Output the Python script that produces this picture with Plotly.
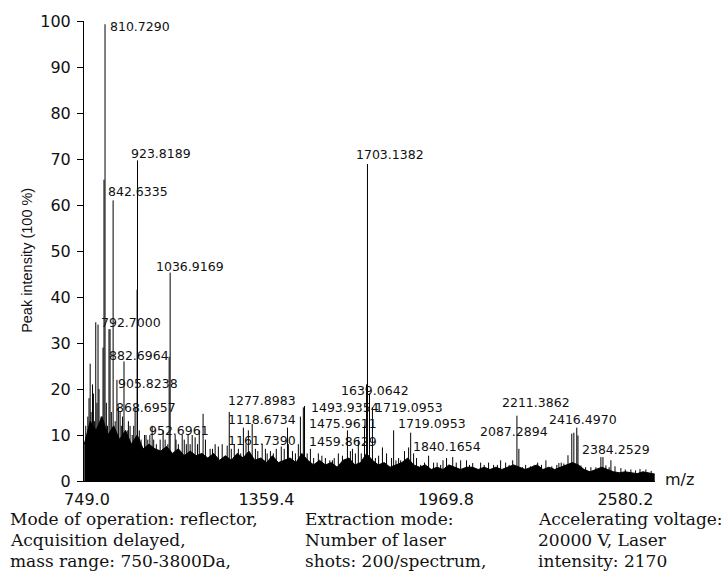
import plotly.graph_objects as go

# ---- data ----
# labelled / major peak sticks (m/z, relative intensity %)
peak_mz = [752, 760, 768, 779, 786.7, 803.7, 807, 810.5, 824, 827.6, 838, 851, 861.7,
           875, 895.7, 912.8, 919.6, 921, 950, 970.7, 998, 1008, 1028.6, 1032, 1049,
           1052, 1073, 1087, 1093, 1107, 1117, 1131, 1144, 1168, 1185, 1196, 1209, 1226,
           1233, 1250, 1264, 1281, 1298, 1311, 1322, 1345, 1356, 1373, 1393, 1410, 1431,
           1434, 1448, 1468, 1475, 1485, 1489, 1509, 1536, 1560, 1584, 1604, 1635, 1652,
           1662, 1672, 1693, 1700, 1703.1, 1710, 1720, 1741, 1754, 1768, 1792, 1809, 1816,
           1829, 1843, 1850, 1860, 1884, 1897, 1911, 1928, 1952, 1972, 1993, 2020, 2040,
           2061, 2088, 2115, 2132, 2156, 2173, 2197, 2211.4, 2218, 2241, 2258, 2282, 2310,
           2330, 2347, 2354, 2371, 2385, 2398, 2405, 2415, 2419, 2429, 2463, 2497, 2504,
           2514, 2531, 2565, 2599, 2650]
peak_int = [14, 25.5, 21, 34.5, 34, 29, 65.5, 99.3, 33, 33, 61, 22, 15,
            26, 12, 16, 41.6, 69.7, 10, 12, 9, 11, 27, 45.3, 10,
            9, 10, 8, 10, 10, 9.5, 11, 14.6, 7, 8, 7.5, 8, 7.7,
            15, 8, 7, 11.6, 11, 12.4, 7, 8, 7, 6.5, 7, 7.5, 11.6,
            8, 6.5, 8, 14, 16, 16.3, 7, 6, 5, 4.5, 6, 11, 7,
            6, 9, 12, 21, 68.9, 19, 16, 5.5, 7.3, 6, 11, 5, 4.5,
            6.5, 7.3, 10.5, 6, 3.5, 4, 5.5, 4, 3.5, 5, 5.2, 4.5, 4.5,
            3.9, 4, 4, 3.5, 4.5, 4, 4.5, 14.2, 7, 3.5, 3.2, 4, 4.5,
            3.2, 3.5, 3.9, 3.8, 5.6, 10.3, 10.5, 11.6, 9.9, 3.4, 3, 5.2, 5.2,
            3.4, 4.5, 2.8, 2.5, 2.5]

# small noise spikes above the baseline band
minor_mz = [745, 756, 763, 771, 775, 783, 790, 797, 815, 819, 832, 845, 856, 866, 870,
            886, 890, 903, 908, 927, 933, 945, 956, 963, 976, 985, 1015, 1024, 1060,
            1080, 1100, 1125, 1152, 1176, 1240, 1272, 1290, 1330, 1362, 1383, 1420,
            1458, 1498, 1520, 1548, 1575, 1590, 1618, 1645, 1682, 1730, 1785, 1800,
            1870, 1940, 1960, 2005, 2050, 2100, 2145, 2185, 2230, 2270, 2295, 2362,
            2445, 2480, 2525, 2545, 2580, 2615, 2630, 2668]
minor_int = [12, 18, 15, 19, 13, 17, 20, 14, 17, 12, 15, 13, 16, 12, 14,
             11, 13, 10, 12, 11, 9, 10, 9, 10, 9, 8, 9, 8, 8,
             9, 8, 8, 9, 7, 7, 6, 8, 6.5, 6, 6, 7,
             6, 6, 5, 5.5, 4.5, 5, 5.5, 6.5, 6, 5, 5, 4.5,
             5, 4, 4.5, 4, 3.5, 3.5, 3.5, 3.5, 3, 3.5, 3.5, 4,
             3, 3, 3, 3.2, 2.5, 2.3, 2.6, 2.2]

# dense baseline-noise envelope
noise_mz = [740, 760, 780, 800, 820, 840, 860, 880, 900, 920, 940, 960, 980, 1000,
            1020, 1040, 1060, 1080, 1100, 1120, 1140, 1160, 1180, 1200, 1220, 1240,
            1260, 1280, 1300, 1320, 1340, 1360, 1380, 1400, 1420, 1440, 1460, 1480,
            1500, 1520, 1540, 1560, 1580, 1600, 1620, 1640, 1660, 1680, 1700, 1720,
            1740, 1760, 1780, 1800, 1820, 1840, 1860, 1880, 1900, 1920, 1940, 1960,
            1980, 2000, 2020, 2040, 2060, 2080, 2100, 2120, 2140, 2160, 2180, 2200,
            2220, 2240, 2260, 2280, 2300, 2320, 2340, 2360, 2380, 2400, 2420, 2440,
            2460, 2480, 2500, 2520, 2540, 2560, 2580, 2600, 2620, 2640, 2660, 2680]
noise_top = [8, 13, 11, 14, 10, 12, 9, 11, 8, 10, 7, 8, 7, 6.5,
             7.5, 6, 7, 5.5, 6.5, 5.5, 6, 5, 6, 4.5, 5.5, 4.5,
             6, 5, 6.5, 4.5, 5, 4, 5.5, 4, 4.5, 5, 4, 6,
             4.5, 3.5, 4.5, 3.5, 4, 3, 4.5, 5, 3.5, 4, 6, 4.5,
             3.5, 4, 3, 3.5, 4, 5, 3.5, 3, 3.5, 2.5, 3, 2.5,
             3.5, 3, 2.5, 3, 3, 2.5, 3, 2.5, 3, 2.5, 3, 3.5,
             3, 2.5, 3, 3.5, 2.5, 3, 2.5, 3, 3.5, 4, 3.5, 2.5,
             2, 2.5, 3, 2.5, 2, 1.8, 2, 1.8, 1.6, 2, 1.7, 1.5]

# peak annotations (text) and where they sit (left edge m/z, intensity)
label_text = ["810.7290", "923.8189", "842.6335", "1036.9169", "792.7000", "882.6964",
              "905.8238", "868.6957", "952.6961", "1277.8983", "1118.6734", "1161.7390",
              "1493.9354", "1719.0953", "1475.9611", "1459.8629", "1639.0642", "1719.0953",
              "1840.1654", "2211.3862", "2087.2894", "2416.4970", "2384.2529", "1703.1382"]
label_x = [824, 896, 817, 981, 793, 821, 851, 845, 957, 1226, 1226, 1226,
           1506, 1724, 1502, 1502, 1611, 1805, 1856, 2156, 2081, 2316, 2429, 1662]
label_y = [98.9, 71.2, 62.9, 46.6, 34.5, 27.3, 21.2, 15.9, 10.9, 17.4, 13.3, 8.8,
           15.9, 15.9, 12.4, 8.6, 19.7, 12.4, 7.5, 17.0, 10.7, 13.3, 6.9, 71.0]

x_tickvals = [749.0, 1359.4, 1969.8, 2580.2]
x_ticktext = ["749.0", "1359.4", "1969.8", "2580.2"]

footer_cols = [
    ["Mode of operation: reflector,", "Acquisition delayed,", "mass range: 750-3800Da,"],
    ["Extraction mode:", "Number of laser", "shots: 200/spectrum,"],
    ["Accelerating voltage:", "20000 V, Laser", "intensity: 2170"],
]

# ---- figure ----
W, H = 723, 579
L, R, T, B = 84, 68, 15, 98
pw, ph = W - L - R, H - T - B

def px_x(p):
    return (p - L) / pw

def px_y(p):
    return (H - B - p) / ph

stick_x, stick_y = [], []
for m, v in zip(peak_mz + minor_mz, peak_int + minor_int):
    stick_x += [m, m, None]
    stick_y += [0, v, None]

fig = go.Figure()
fig.add_trace(go.Scatter(x=noise_mz, y=noise_top, mode="lines", fill="tozeroy",
                         fillcolor="black", line=dict(color="black", width=1),
                         hoverinfo="skip", showlegend=False))
fig.add_trace(go.Scatter(x=stick_x, y=stick_y, mode="lines",
                         line=dict(color="black", width=1),
                         hoverinfo="skip", showlegend=False))

ann = []
for t, x, y in zip(label_text, label_x, label_y):
    ann.append(dict(x=x, y=y, xref="x", yref="y", text=t, showarrow=False,
                    xanchor="left", yanchor="middle", borderpad=0,
                    font=dict(family="DejaVu Sans", size=12.5, color="#111")))

ann.append(dict(x=px_x(27), y=px_y(258), xref="paper", yref="paper",
                text="Peak intensity (100 %)", textangle=-90, showarrow=False,
                xanchor="center", yanchor="middle",
                font=dict(family="Liberation Sans", size=14.5, color="#111")))
ann.append(dict(x=px_x(663), y=px_y(479), xref="paper", yref="paper",
                text="m/z", showarrow=False, xanchor="left", yanchor="middle",
                font=dict(family="DejaVu Sans", size=16, color="#111")))

col_left = [8, 303, 536]
row_y = [519, 541, 562]
for cx, lines in zip(col_left, footer_cols):
    for ry, line in zip(row_y, lines):
        ann.append(dict(x=px_x(cx), y=px_y(ry), xref="paper", yref="paper",
                        text=line, showarrow=False, xanchor="left", yanchor="middle",
                        font=dict(family="DejaVu Serif", size=17, color="#111")))

fig.update_layout(
    width=W, height=H,
    margin=dict(l=L, r=R, t=T, b=B, pad=0),
    paper_bgcolor="white", plot_bgcolor="white",
    showlegend=False,
    annotations=ann,
    xaxis=dict(range=[739, 2681], tickvals=x_tickvals, ticktext=x_ticktext,
               showline=True, linecolor="black", linewidth=1, showgrid=False,
               zeroline=False, ticks="", ticklabelstandoff=4,
               tickfont=dict(family="DejaVu Sans", size=16, color="#111")),
    yaxis=dict(range=[0, 100], dtick=10, showline=True, linecolor="black",
               linewidth=1, showgrid=False, zeroline=False, ticks="outside",
               ticklen=6, tickcolor="black", ticklabelstandoff=3,
               tickfont=dict(family="DejaVu Sans", size=16, color="#111")),
)

fig.write_html("out.html", config={"displayModeBar": False},
               post_script="document.body.style.margin='0px';document.body.style.overflow='hidden';")
